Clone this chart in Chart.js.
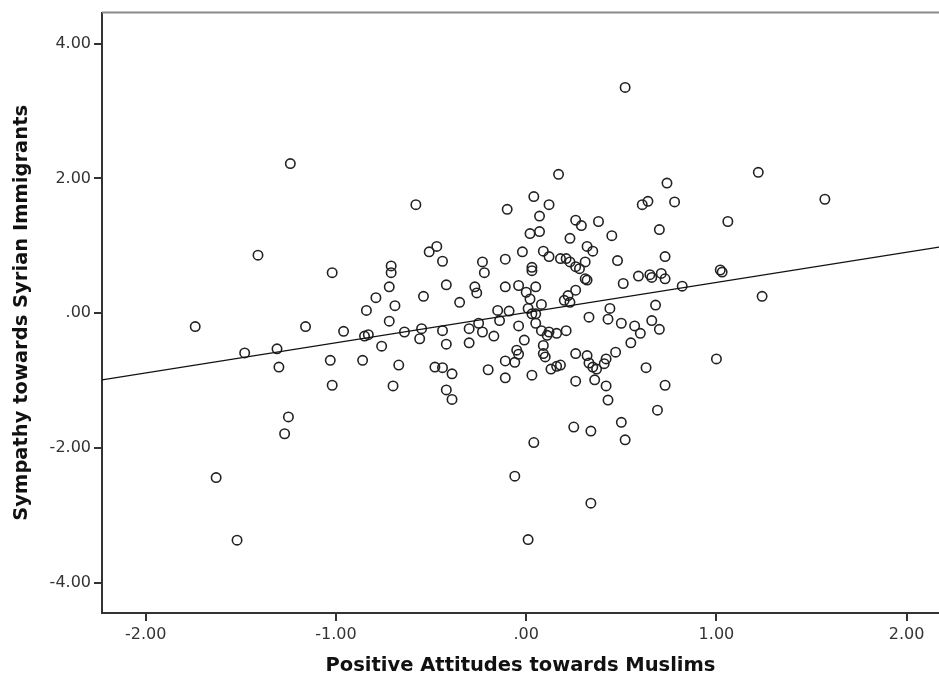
<!DOCTYPE html>
<html>
<head>
<meta charset="utf-8">
<script src="https://cdn.jsdelivr.net/npm/chart.js@4.4.1/dist/chart.umd.min.js"></script>
<style>
  html, body { margin: 0; padding: 0; background: #ffffff; }
  #wrap { width: 939px; height: 682px; }
</style>
</head>
<body>
<div id="wrap"><canvas id="c" width="939" height="682"></canvas></div>
<script>
// Positive Attitudes towards Muslims (x) and Sympathy towards Syrian Immigrants (y)
const xValues = [
  -1.74,-1.63,-1.52,-1.48,-1.41,-1.31,-1.30,-1.27,-1.25,-1.24,
  -1.16,-1.03,-1.02,-1.02,-0.96,-0.86,-0.85,-0.83,-0.84,-0.79,
  -0.76,-0.72,-0.71,-0.71,-0.69,-0.72,-0.70,-0.67,-0.64,-0.58,
  -0.54,-0.55,-0.56,-0.51,-0.47,-0.44,-0.42,-0.44,-0.42,-0.48,
  -0.44,-0.39,-0.42,-0.39,-0.35,-0.30,-0.30,-0.27,-0.26,-0.25,
  -0.23,-0.17,-0.23,-0.22,-0.20,-0.15,-0.14,-0.09,-0.10,-0.11,
  -0.11,-0.04,0.00,0.05,-0.02,0.03,0.03,0.02,0.07,0.04,
  0.07,0.12,0.17,0.09,0.12,0.18,0.21,0.23,0.26,0.28,
  0.31,0.31,0.32,0.22,0.23,0.20,0.26,0.23,0.26,0.29,
  0.32,0.35,0.38,0.45,0.48,0.51,0.52,0.01,0.03,0.05,
  0.08,0.02,-0.04,0.05,0.08,0.11,0.12,0.16,0.21,-0.01,
  0.09,-0.05,-0.04,-0.06,-0.11,0.09,0.10,-0.11,0.03,0.13,
  0.16,0.18,0.04,-0.06,0.01,0.34,0.25,0.34,0.50,0.52,
  0.26,0.32,0.33,0.35,0.37,0.41,0.42,0.47,0.26,0.36,
  0.42,0.43,0.33,0.44,0.43,0.50,0.57,0.60,0.55,0.59,
  0.65,0.66,0.71,0.73,0.82,0.68,0.66,0.70,0.63,0.73,
  0.69,0.73,0.70,0.61,0.64,0.78,0.74,1.06,1.02,1.03,
  1.00,1.24,1.22,1.57
];
const yValues = [
  -0.20,-2.44,-3.37,-0.59,0.86,-0.53,-0.80,-1.79,-1.54,2.22,
  -0.20,-0.70,-1.07,0.60,-0.27,-0.70,-0.34,-0.32,0.04,0.23,
  -0.49,0.39,0.70,0.60,0.11,-0.12,-1.08,-0.77,-0.28,1.61,
  0.25,-0.23,-0.38,0.91,0.99,0.77,0.42,-0.26,-0.46,-0.80,
  -0.81,-0.90,-1.14,-1.28,0.16,-0.23,-0.44,0.39,0.30,-0.15,
  -0.28,-0.34,0.76,0.60,-0.84,0.04,-0.11,0.03,1.54,0.80,
  0.39,0.41,0.31,0.39,0.91,0.68,0.63,1.18,1.21,1.73,
  1.44,1.61,2.06,0.92,0.84,0.81,0.81,0.76,0.69,0.66,
  0.76,0.51,0.49,0.26,0.16,0.19,0.34,1.11,1.38,1.30,
  0.99,0.92,1.36,1.15,0.78,0.44,3.35,0.07,-0.01,-0.01,
  0.13,0.21,-0.19,-0.15,-0.26,-0.33,-0.28,-0.30,-0.26,-0.40,
  -0.48,-0.55,-0.61,-0.73,-0.71,-0.60,-0.65,-0.96,-0.92,-0.83,
  -0.79,-0.77,-1.92,-2.42,-3.36,-2.82,-1.69,-1.75,-1.62,-1.88,
  -0.60,-0.63,-0.74,-0.80,-0.83,-0.75,-0.68,-0.58,-1.01,-0.99,
  -1.08,-1.29,-0.06,0.07,-0.09,-0.15,-0.19,-0.30,-0.44,0.55,
  0.57,0.53,0.59,0.51,0.40,0.12,-0.11,-0.24,-0.81,-1.07,
  -1.44,0.84,1.24,1.61,1.66,1.65,1.93,1.36,0.64,0.61,
  -0.68,0.25,2.09,1.69
];
// Fit line end points
const fitX = [-2.23, 2.17];
const fitY = [-0.99, 0.98];
// Axis ticks
const xTickValues = [-2, -1, 0, 1, 2];
const xTickLabels = ['-2.00', '-1.00', '.00', '1.00', '2.00'];
const yTickValues = [-4, -2, 0, 2, 4];
const yTickLabels = ['-4.00', '-2.00', '.00', '2.00', '4.00'];
const xTitle = 'Positive Attitudes towards Muslims';
const yTitle = 'Sympathy towards Syrian Immigrants';

const points = xValues.map((x, i) => ({ x: x, y: yValues[i] }));
const fitLine = fitX.map((x, i) => ({ x: x, y: fitY[i] }));

function labelFor(values, labels, v) {
  for (let i = 0; i < values.length; i++) {
    if (Math.abs(values[i] - v) < 1e-6) return labels[i];
  }
  return '';
}

const topBorder = {
  id: 'topBorder',
  afterDraw(chart) {
    const { ctx, chartArea } = chart;
    ctx.save();
    ctx.strokeStyle = '#8a8a8a';
    ctx.lineWidth = 2;
    ctx.beginPath();
    ctx.moveTo(chartArea.left, chartArea.top);
    ctx.lineTo(chartArea.right, chartArea.top);
    ctx.stroke();
    ctx.restore();
  }
};

new Chart(document.getElementById('c'), {
  type: 'scatter',
  data: {
    datasets: [
      {
        label: 'Fit',
        data: fitLine,
        showLine: true,
        borderColor: '#111111',
        borderWidth: 1.2,
        pointRadius: 0,
        fill: false
      },
      {
        label: 'Cases',
        data: points,
        pointStyle: 'circle',
        pointRadius: 4.7,
        pointBorderWidth: 1.6,
        pointBorderColor: '#222222',
        pointBackgroundColor: 'rgba(0,0,0,0)',
        showLine: false
      }
    ]
  },
  options: {
    responsive: false,
    animation: false,
    devicePixelRatio: 1,
    layout: { autoPadding: false, padding: { top: 12, right: 0, bottom: 0, left: 0 } },
    plugins: {
      legend: { display: false },
      tooltip: { enabled: false }
    },
    scales: {
      x: {
        type: 'linear',
        min: -2.23,
        max: 2.17,
        afterFit(scale) { scale.height = 69; },
        border: { display: true, color: '#333333', width: 2 },
        grid: { display: true, drawOnChartArea: false, drawTicks: true, tickLength: 8, color: '#333333', lineWidth: 2 },
        ticks: {
          stepSize: 1,
          includeBounds: false,
          autoSkip: false,
          maxRotation: 0,
          padding: 4,
          color: '#333333',
          font: { family: 'DejaVu Sans', size: 16 },
          callback: (v) => labelFor(xTickValues, xTickLabels, v)
        },
        title: {
          display: true,
          text: xTitle,
          color: '#111111',
          font: { family: 'DejaVu Sans', size: 19.5, weight: 'bold' },
          padding: { top: 0, bottom: 4 }
        }
      },
      y: {
        type: 'linear',
        min: -4.45,
        max: 4.46,
        afterFit(scale) { scale.width = 102; },
        border: { display: true, color: '#333333', width: 2 },
        grid: { display: true, drawOnChartArea: false, drawTicks: true, tickLength: 8, color: '#333333', lineWidth: 2 },
        ticks: {
          stepSize: 2,
          includeBounds: false,
          autoSkip: false,
          padding: 3,
          color: '#333333',
          font: { family: 'DejaVu Sans', size: 16 },
          callback: (v) => labelFor(yTickValues, yTickLabels, v)
        },
        title: {
          display: true,
          text: yTitle,
          color: '#111111',
          font: { family: 'DejaVu Sans', size: 19.5, weight: 'bold' },
          padding: { top: 10, bottom: 0 }
        }
      }
    }
  },
  plugins: [topBorder]
});
</script>
</body>
</html>
